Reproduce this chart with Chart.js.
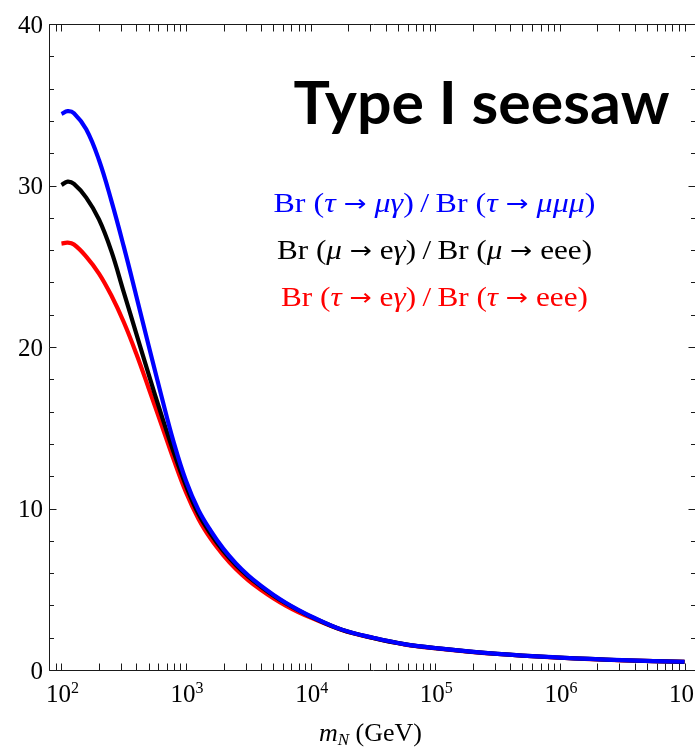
<!DOCTYPE html>
<html>
<head>
<meta charset="utf-8">
<style>
  html, body { margin: 0; padding: 0; background: #fff; overflow: hidden; }
  #wrap { position: relative; width: 700px; height: 748px; }
</style>
<script src="https://cdn.jsdelivr.net/npm/chart.js@4/dist/chart.umd.min.js"></script>
</head>
<body>
<div id="wrap"><canvas id="c" width="700" height="748"></canvas></div>
<script>
// Heavy-neutrino mass m_N in GeV
const massGeV = [100, 112, 126, 158, 200, 251, 316, 398, 501, 631, 794, 1000, 1259, 1585, 1995,
                 2512, 3162, 3981, 5012, 6310, 7943, 10000, 17783, 31623, 56234, 1e5, 316228, 1e6,
                 3162278, 1e7];

// Br(tau -> mu gamma) / Br(tau -> mu mu mu)
const ratioTauMu = [34.43, 34.6, 34.48, 33.48, 31.58, 29.08, 26.23, 23.18, 20.08, 17.03, 14.13, 11.7,
                    9.9, 8.6, 7.5, 6.6, 5.85, 5.22, 4.66, 4.16, 3.72, 3.33, 2.5, 2.0, 1.6, 1.36, 1.0,
                    0.77, 0.61, 0.51];
// Br(mu -> e gamma) / Br(mu -> e e e)
const ratioMuE = [30.03, 30.24, 30.1, 29.25, 27.9, 25.95, 23.4, 20.85, 18.3, 15.85, 13.5, 11.4,
                  9.65, 8.4, 7.35, 6.5, 5.78, 5.17, 4.62, 4.13, 3.7, 3.31, 2.49, 1.99, 1.6, 1.355,
                  0.995, 0.765, 0.605, 0.505];
// Br(tau -> e gamma) / Br(tau -> e e e)
const ratioTauE = [26.4, 26.46, 26.35, 25.6, 24.55, 23.2, 21.55, 19.6, 17.45, 15.25, 13.05, 11.0,
                   9.35, 8.1, 7.1, 6.25, 5.55, 4.96, 4.44, 3.98, 3.58, 3.24, 2.48, 1.98, 1.59, 1.35,
                   0.99, 0.76, 0.6, 0.5];

// axis ticks and labels
const yTickValues = [0, 10, 20, 30, 40];
const yMinorStep = 2;
const xTickExponents = [2, 3, 4, 5, 6, 7];
const titleText = 'Type I seesaw';

// labels of the three curves, split into runs: 0 upright, 1 italic, 2 arrow
const seriesLabels = [
  { color: '#0000ff', runs: [['Br (', 0], ['τ', 1], [' ', 0], ['→', 2], [' ', 0], ['μγ', 1], [')\u2009/\u2009Br (', 0], ['τ', 1], [' ', 0], ['→', 2], [' ', 0], ['μμμ', 1], [')', 0]] },
  { color: '#000000', runs: [['Br (', 0], ['μ', 1], [' ', 0], ['→', 2], [' e', 0], ['γ', 1], [')\u2009/\u2009Br (', 0], ['μ', 1], [' ', 0], ['→', 2], [' eee)', 0]] },
  { color: '#ff0000', runs: [['Br (', 0], ['τ', 1], [' ', 0], ['→', 2], [' e', 0], ['γ', 1], [')\u2009/\u2009Br (', 0], ['τ', 1], [' ', 0], ['→', 2], [' eee)', 0]] }
];

const toPoints = vals => massGeV.map((m, i) => ({ x: m, y: vals[i] }));

const SERIF = '"Liberation Serif", "DejaVu Serif", serif';
const runFont = (kind, size) =>
  kind === 1 ? `italic ${size}px ${SERIF}` :
  kind === 2 ? `${size - 4}px "DejaVu Sans", sans-serif` : `${size}px ${SERIF}`;

const framePlugin = {
  id: 'frame',
  beforeDatasetsDraw(chart) {
    const { ctx, chartArea: a, scales: { x, y } } = chart;
    const L = Math.round(a.left) + 0.5, R = Math.round(a.right) + 0.5;
    const T = Math.round(a.top) + 0.5, B = Math.round(a.bottom) + 0.5;
    ctx.save();
    ctx.strokeStyle = '#1a1a1a';
    ctx.lineWidth = 1;
    ctx.beginPath();
    ctx.rect(L, T, R - L, B - T);
    // vertical-axis ticks (inward on both sides)
    for (let v = y.min; v <= y.max + 1e-9; v += yMinorStep) {
      const py = Math.round(y.getPixelForValue(v)) + 0.5;
      const len = (v % 10 === 0) ? 7 : 4.5;
      ctx.moveTo(L, py); ctx.lineTo(L + len, py);
      ctx.moveTo(R, py); ctx.lineTo(R - len - 2, py);
    }
    // log-axis ticks (inward, bottom and top)
    for (let d = 1; d <= 7; d++) {
      for (let k = 1; k <= 9; k++) {
        const val = k * Math.pow(10, d);
        if (val < x.min * 0.999 || val > x.max) continue;
        const px = Math.round(x.getPixelForValue(val)) + 0.5;
        ctx.moveTo(px, B); ctx.lineTo(px, B - 7);
        ctx.moveTo(px, T); ctx.lineTo(px, T + 7);
      }
    }
    ctx.stroke();
    ctx.restore();
  },
  afterDraw(chart) {
    const { ctx, chartArea: a, scales: { x, y } } = chart;
    ctx.save();
    ctx.fillStyle = '#000';
    ctx.textBaseline = 'alphabetic';

    // vertical-axis labels
    ctx.font = `25px ${SERIF}`;
    ctx.textAlign = 'right';
    yTickValues.forEach(v => {
      ctx.fillText(String(v), a.left - 6, y.getPixelForValue(v) + 8.5);
    });

    // log-axis labels 10^n
    ctx.textAlign = 'left';
    xTickExponents.forEach(n => {
      const px = x.getPixelForValue(Math.pow(10, n));
      ctx.font = `25px ${SERIF}`;
      const wb = ctx.measureText('10').width;
      ctx.font = `16px ${SERIF}`;
      const we = ctx.measureText(String(n)).width;
      const x0 = px - (wb + we) / 2 + 1;
      ctx.font = `25px ${SERIF}`;
      ctx.fillText('10', x0, 701.5);
      ctx.font = `16px ${SERIF}`;
      ctx.fillText(String(n), x0 + wb, 692.5);
    });

    // axis title: m_N (GeV)
    ctx.font = `italic 26px ${SERIF}`;
    const wm = ctx.measureText('m').width;
    ctx.font = `italic 17px ${SERIF}`;
    const wn = ctx.measureText('N').width;
    ctx.font = `26px ${SERIF}`;
    const wg = ctx.measureText(' (GeV)').width;
    let tx = 370.5 - (wm + wn + wg) / 2;
    ctx.font = `italic 26px ${SERIF}`;
    ctx.fillText('m', tx, 741); tx += wm;
    ctx.font = `italic 17px ${SERIF}`;
    ctx.fillText('N', tx, 744.5); tx += wn;
    ctx.font = `26px ${SERIF}`;
    ctx.fillText(' (GeV)', tx, 741);

    // title
    ctx.font = 'bold 60px Lato, "Open Sans", sans-serif';
    const tw = ctx.measureText(titleText).width;
    const sx = 376 / tw;
    ctx.save();
    ctx.translate(293.5, 123.5);
    ctx.scale(sx, 1);
    ctx.fillText(titleText, 0, 0);
    ctx.restore();

    // curve labels
    const baselines = [211.5, 259, 306];
    const targetWidths = [322, 315, 307];
    seriesLabels.forEach((lab, i) => {
      const size = 27;
      let w = 0;
      lab.runs.forEach(([t, k]) => {
        ctx.font = runFont(k, size);
        w += ctx.measureText(t).width;
      });
      const s = targetWidths[i] / w;
      ctx.save();
      ctx.translate(434.5 - targetWidths[i] / 2, baselines[i]);
      ctx.scale(s, 1);
      ctx.fillStyle = lab.color;
      let cx = 0;
      lab.runs.forEach(([t, k]) => {
        ctx.font = runFont(k, size);
        ctx.fillText(t, cx, k === 2 ? -1 : 0);
        cx += ctx.measureText(t).width;
      });
      ctx.restore();
    });
    ctx.restore();
  }
};

new Chart(document.getElementById('c'), {
  type: 'scatter',
  data: {
    datasets: [
      { data: toPoints(ratioTauMu), borderColor: '#0000ff' },
      { data: toPoints(ratioMuE), borderColor: '#000000' },
      { data: toPoints(ratioTauE), borderColor: '#ff0000' }
    ].map(d => Object.assign(d, {
      showLine: true, pointRadius: 0, borderWidth: 4.2,
      tension: 0.4, borderCapStyle: 'butt', borderJoinStyle: 'round', fill: false
    }))
  },
  options: {
    responsive: false,
    devicePixelRatio: 1,
    animation: false,
    layout: { padding: { left: 49, top: 24, right: 3, bottom: 78 } },
    plugins: { legend: { display: false }, tooltip: { enabled: false } },
    scales: {
      x: { type: 'logarithmic', display: false, min: Math.pow(10, 1.9), max: Math.pow(10, 7.1) },
      y: { type: 'linear', display: false, min: 0, max: 40 }
    }
  },
  plugins: [framePlugin]
});
</script>
</body>
</html>
